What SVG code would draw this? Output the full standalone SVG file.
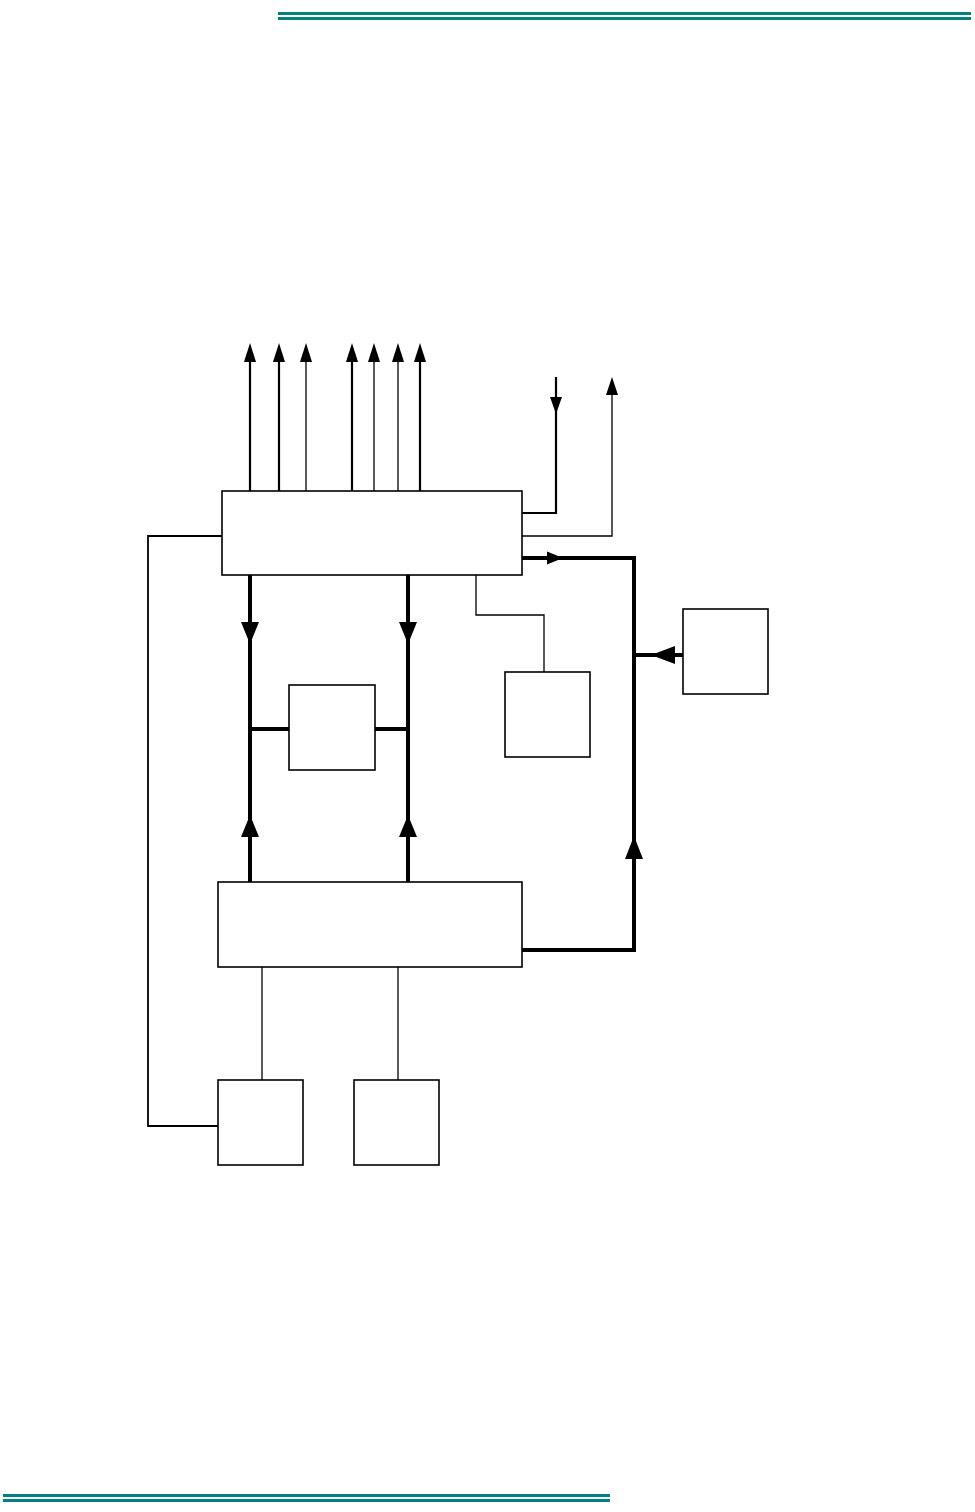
<svg xmlns="http://www.w3.org/2000/svg" width="975" height="1512" viewBox="0 0 975 1512">
<style>
.bg{fill:#fff}
.rule{fill:#008080}
.box{fill:#fff;stroke:#000;stroke-width:1.6}
.thin{fill:none;stroke:#000;stroke-width:1.3}
.loop{fill:none;stroke:#000;stroke-width:1.8}
.med{fill:none;stroke:#000;stroke-width:2.2}
.bus{fill:none;stroke:#000;stroke-width:4}
.head{fill:#000;stroke:none}
</style>
<rect class="bg" x="0" y="0" width="975" height="1512"/>
<g id="header">
<rect class="rule" x="278" y="12" width="693" height="3"/>
<rect class="rule" x="278" y="17" width="693" height="3"/>
</g>
<g id="footer">
<rect class="rule" x="3" y="1494" width="607" height="3"/>
<rect class="rule" x="3" y="1499" width="607" height="3"/>
</g>
<g id="connectors">
<line class="med" x1="250" y1="491" x2="250" y2="358"/>
<polygon class="head" points="250,343 244,362 256,362"/>
<line class="med" x1="279" y1="491" x2="279" y2="358"/>
<polygon class="head" points="279,343 273,362 285,362"/>
<line class="thin" x1="306" y1="491" x2="306" y2="358"/>
<polygon class="head" points="306,343 300,362 312,362"/>
<line class="med" x1="352" y1="491" x2="352" y2="358"/>
<polygon class="head" points="352,343 346,362 358,362"/>
<line class="thin" x1="374" y1="491" x2="374" y2="358"/>
<polygon class="head" points="374,343 368,362 380,362"/>
<line class="thin" x1="398" y1="491" x2="398" y2="358"/>
<polygon class="head" points="398,343 392,362 404,362"/>
<line class="med" x1="420" y1="491" x2="420" y2="358"/>
<polygon class="head" points="420,343 414,362 426,362"/>
<polyline class="med" points="522,513 556,513 556,377"/>
<polygon class="head" points="556,414 550,397 562,397"/>
<polyline class="thin" points="522,536 612,536 612,392"/>
<polygon class="head" points="612,377 606,395 618,395"/>
<polyline class="loop" points="222,536 148,536 148,1126 218,1126"/>
<polyline class="bus" points="522,558 634,558 634,950 522,950"/>
<polygon class="head" points="563,558 547,551.5 547,564.5"/>
<polygon class="head" points="634,836 625,859 643,859"/>
<line class="bus" x1="683" y1="655" x2="634" y2="655"/>
<polygon class="head" points="651,655 675,646 675,664"/>
<line class="bus" x1="250" y1="575" x2="250" y2="882"/>
<line class="bus" x1="408" y1="575" x2="408" y2="882"/>
<polygon class="head" points="250,644 241,622 259,622"/>
<polygon class="head" points="408,644 399,622 417,622"/>
<polygon class="head" points="250,815 241,837 259,837"/>
<polygon class="head" points="408,815 399,837 417,837"/>
<line class="bus" x1="250" y1="729" x2="289" y2="729"/>
<line class="bus" x1="375" y1="729" x2="408" y2="729"/>
<polyline class="thin" points="476,575 476,615 544,615 544,672"/>
<line class="thin" x1="262" y1="967" x2="262" y2="1080"/>
<line class="thin" x1="398" y1="967" x2="398" y2="1080"/>
</g>
<g id="main-top"><rect class="box" x="222" y="491" width="300" height="84"/></g>
<g id="center-box"><rect class="box" x="289" y="685" width="86" height="85"/></g>
<g id="mid-right-box"><rect class="box" x="505" y="672" width="85" height="85"/></g>
<g id="far-right-box"><rect class="box" x="683" y="609" width="85" height="85"/></g>
<g id="main-bottom"><rect class="box" x="218" y="882" width="304" height="85"/></g>
<g id="bottom-left-box"><rect class="box" x="218" y="1080" width="85" height="85"/></g>
<g id="bottom-mid-box"><rect class="box" x="354" y="1080" width="85" height="85"/></g>
</svg>
